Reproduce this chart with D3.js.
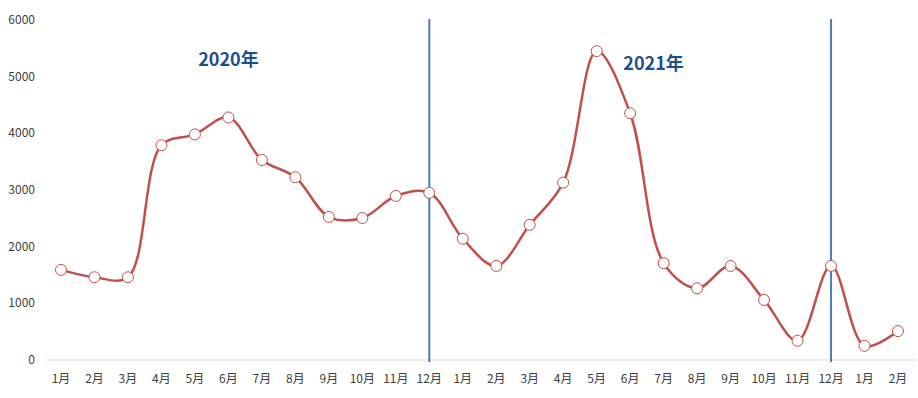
<!DOCTYPE html>
<html>
<head>
<meta charset="utf-8">
<script src="https://cdn.jsdelivr.net/npm/d3@7"></script>
<style>
  body { margin: 0; background: #fff; }
  text { font-family: "Noto Sans CJK SC", "Noto Sans", sans-serif; }
</style>
</head>
<body>
<div id="chart"></div>
<script>
// months along the x axis (2020-01 .. 2022-02)
var months = ["1月","2月","3月","4月","5月","6月","7月","8月","9月","10月","11月","12月",
              "1月","2月","3月","4月","5月","6月","7月","8月","9月","10月","11月","12月",
              "1月","2月"];
var values = [1590, 1460, 1460, 3790, 3980, 4280, 3530, 3225, 2525, 2505, 2895, 2950,
              2140, 1660, 2385, 3130, 5450, 4355, 1710, 1265, 1660, 1060, 340, 1660,
              250, 510];
var yTicks = [0, 1000, 2000, 3000, 4000, 5000, 6000];
// vertical separators drawn at these point indexes
var dividers = [11, 23];
var yearLabels = [{text: "2020年", at: 5, value: 5180}, {text: "2021年", at: 17.7, value: 5110}];

var width = 918, height = 398;

var svg = d3.select("#chart").append("svg")
    .attr("width", width)
    .attr("height", height);

var x = d3.scalePoint()
    .domain(d3.range(months.length))
    .range([61, 898]);

var y = d3.scaleLinear()
    .domain([0, 6000])
    .range([360, 20]);

// y labels
svg.append("g")
    .selectAll("text")
    .data(yTicks)
    .enter()
    .append("text")
      .attr("x", 35)
      .attr("y", function(d) { return y(d) + 4; })
      .attr("text-anchor", "end")
      .attr("font-size", 12)
      .attr("fill", "#404040")
      .text(function(d) { return d; });

// baseline
svg.append("line")
    .attr("x1", 45).attr("x2", 916)
    .attr("y1", y(0)).attr("y2", y(0))
    .attr("stroke", "#d9d9d9")
    .attr("stroke-width", 1);

// x labels
svg.append("g")
    .selectAll("text")
    .data(months)
    .enter()
    .append("text")
      .attr("x", function(d, i) { return x(i); })
      .attr("y", 383)
      .attr("text-anchor", "middle")
      .attr("font-size", 12)
      .attr("fill", "#404040")
      .text(function(d) { return d; });

// smoothed line
var line = d3.line()
    .x(function(d, i) { return x(i); })
    .y(function(d) { return y(d); })
    .curve(d3.curveCatmullRom.alpha(0.5));

svg.append("path")
    .datum(values)
    .attr("d", line)
    .attr("fill", "none")
    .attr("stroke", "#c0504d")
    .attr("stroke-width", 2.5);

// year separators
svg.selectAll(".divider")
    .data(dividers)
    .enter()
    .append("line")
      .attr("class", "divider")
      .attr("x1", function(d) { return x(d); })
      .attr("x2", function(d) { return x(d); })
      .attr("y1", 19)
      .attr("y2", 362)
      .attr("stroke", "#4a7ebb")
      .attr("stroke-width", 2);

// markers
svg.selectAll(".dot")
    .data(values)
    .enter()
    .append("circle")
      .attr("class", "dot")
      .attr("cx", function(d, i) { return x(i); })
      .attr("cy", function(d) { return y(d); })
      .attr("r", 5.5)
      .attr("fill", "#fff")
      .attr("stroke", "#c0504d")
      .attr("stroke-width", 1);

// year labels
svg.selectAll(".year")
    .data(yearLabels)
    .enter()
    .append("text")
      .attr("class", "year")
      .attr("x", function(d) { return x(0) + d.at * (x(1) - x(0)); })
      .attr("y", function(d) { return y(d.value); })
      .attr("text-anchor", "middle")
      .attr("font-size", 18)
      .attr("font-weight", "bold")
      .attr("fill", "#1f4e8c")
      .text(function(d) { return d.text; });
</script>
</body>
</html>
